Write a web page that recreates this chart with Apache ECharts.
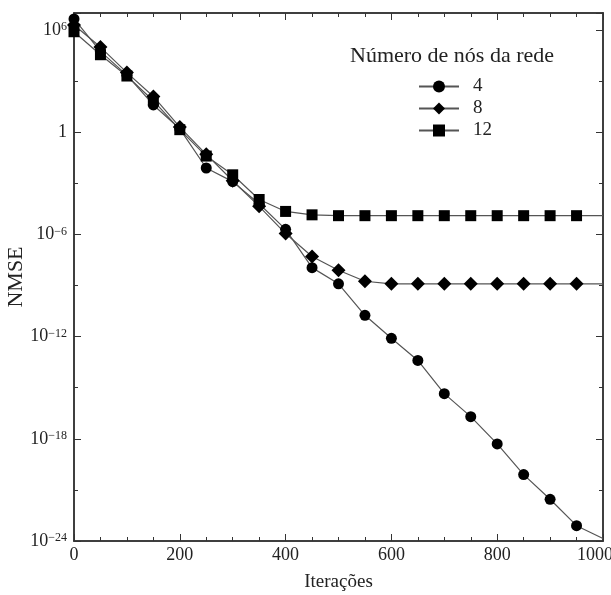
<!DOCTYPE html>
<html>
<head>
<meta charset="utf-8">
<script src="https://cdn.jsdelivr.net/npm/echarts@6/dist/echarts.min.js"></script>
<style>
  html, body { margin: 0; padding: 0; background: #fff; }
  #chart { width: 611px; height: 595px; }
</style>
</head>
<body>
<div id="chart"></div>
<script>
// iterações com marcador (o último ponto só fecha a linha)
const iteracoes = [0, 50, 100, 150, 200, 250, 300, 350, 400, 450, 500,
  550, 600, 650, 700, 750, 800, 850, 900, 950, 1000];

// log10(NMSE), um valor por iteração
const nmse4 = [6.65, 4.75, 3.35, 1.6, 0.2, -2.1, -2.9, -4.2, -5.7, -7.95, -8.9,
  -10.75, -12.1, -13.4, -15.35, -16.7, -18.3, -20.1, -21.55, -23.1, -23.85];
const nmse8 = [6.3, 5.0, 3.5, 2.1, 0.3, -1.3, -2.85, -4.35, -5.95, -7.3, -8.1,
  -8.75, -8.9, -8.9, -8.9, -8.9, -8.9, -8.9, -8.9, -8.9, -8.9];
const nmse12 = [5.9, 4.55, 3.3, 1.85, 0.15, -1.4, -2.5, -3.95, -4.65, -4.85, -4.9,
  -4.9, -4.9, -4.9, -4.9, -4.9, -4.9, -4.9, -4.9, -4.9, -4.9];

const nomesSeries = ['4', '8', '12'];
const simbolos = ['circle', 'diamond', 'rect'];
const tamanhos = [11, 14, 11];
const tituloLegenda = 'Número de nós da rede';

const fonte = 'Liberation Serif';
const corEixo = '#333';

const chart = echarts.init(document.getElementById('chart'));

const serie = (nome, valores, simbolo, tamanho) => ({
  name: nome,
  type: 'line',
  xAxisIndex: 0,
  yAxisIndex: 0,
  data: iteracoes.map((it, i) => i === iteracoes.length - 1
    ? { value: [it, valores[i]], symbol: 'none' }
    : [it, valores[i]]),
  symbol: simbolo,
  symbolSize: tamanho,
  showAllSymbol: true,
  lineStyle: { color: '#555', width: 1.2 },
  itemStyle: { color: '#000' },
  emphasis: { disabled: true },
});

const eixoX = (pos, intervalo, comprimento, comRotulo) => ({
  type: 'value',
  position: pos,
  min: 0,
  max: 1000,
  interval: intervalo,
  axisLine: { show: true, onZero: false, lineStyle: { color: corEixo, width: 1.5 } },
  axisTick: { show: true, inside: true, length: comprimento, lineStyle: { color: corEixo } },
  axisLabel: {
    show: comRotulo, fontFamily: fonte, fontSize: 18, color: '#222', margin: 5,
    // o último rótulo fica encostado na borda, deslocado para a esquerda
    formatter: (v) => v === 1000 ? '{r|' + v + '}' : String(v),
    rich: { r: { fontFamily: fonte, fontSize: 18, color: '#222', padding: [0, 16, 0, 0] } },
  },
  splitLine: { show: false },
});

const eixoY = (pos, intervalo, comprimento, comRotulo) => ({
  type: 'value',
  position: pos,
  min: -24,
  max: 7,
  interval: intervalo,
  axisLine: { show: true, onZero: false, lineStyle: { color: corEixo, width: 1.5 } },
  axisTick: { show: true, inside: true, length: comprimento, lineStyle: { color: corEixo } },
  axisLabel: {
    show: comRotulo,
    margin: 7,
    color: '#222',
    fontFamily: fonte,
    formatter: (v) => {
      if (v % 6 !== 0) return '';
      if (v === 0) return '{n|1}';
      return '{n|10}{s|' + (v < 0 ? '\u2212' : '') + Math.abs(v) + '}';
    },
    rich: {
      n: { fontFamily: fonte, fontSize: 18, color: '#222' },
      s: { fontFamily: fonte, fontSize: 12, color: '#222', verticalAlign: 'top', padding: [0, 0, 6, 0] },
    },
  },
  splitLine: { show: false },
});

const principalX = eixoX('bottom', 200, 7, true);
principalX.name = 'Iterações';
principalX.nameLocation = 'middle';
principalX.nameGap = 32;
principalX.nameMoveOverlap = false;
principalX.nameTextStyle = { fontFamily: fonte, fontSize: 19, color: '#222' };

const principalY = eixoY('left', 6, 7, true);
principalY.name = 'NMSE';
principalY.nameLocation = 'middle';
principalY.nameGap = 47;
principalY.nameMoveOverlap = false;
principalY.nameTextStyle = { fontFamily: fonte, fontSize: 22, color: '#222' };

chart.setOption({
  animation: false,
  backgroundColor: '#fff',
  title: {
    text: tituloLegenda,
    left: 345,
    top: 40,
    textStyle: { fontFamily: fonte, fontSize: 22, fontWeight: 'normal', color: '#222' },
  },
  legend: {
    data: nomesSeries,
    orient: 'vertical',
    left: 413,
    top: 72,
    itemWidth: 40,
    itemHeight: 15,
    itemGap: 3,
    textStyle: { fontFamily: fonte, fontSize: 19, color: '#222', padding: [0, 0, 0, 9] },
  },
  grid: { left: 74, right: 8, top: 13, bottom: 54, outerBoundsMode: 'none' },
  xAxis: [
    principalX,
    eixoX('bottom', 50, 4, false),
    eixoX('top', 200, 7, false),
    eixoX('top', 50, 4, false),
  ],
  yAxis: [
    principalY,
    eixoY('left', 3, 4, false),
    eixoY('right', 6, 7, false),
    eixoY('right', 3, 4, false),
  ],
  series: [
    serie(nomesSeries[2], nmse12, simbolos[2], tamanhos[2]),
    serie(nomesSeries[1], nmse8, simbolos[1], tamanhos[1]),
    serie(nomesSeries[0], nmse4, simbolos[0], tamanhos[0]),
  ],
});
</script>
</body>
</html>
